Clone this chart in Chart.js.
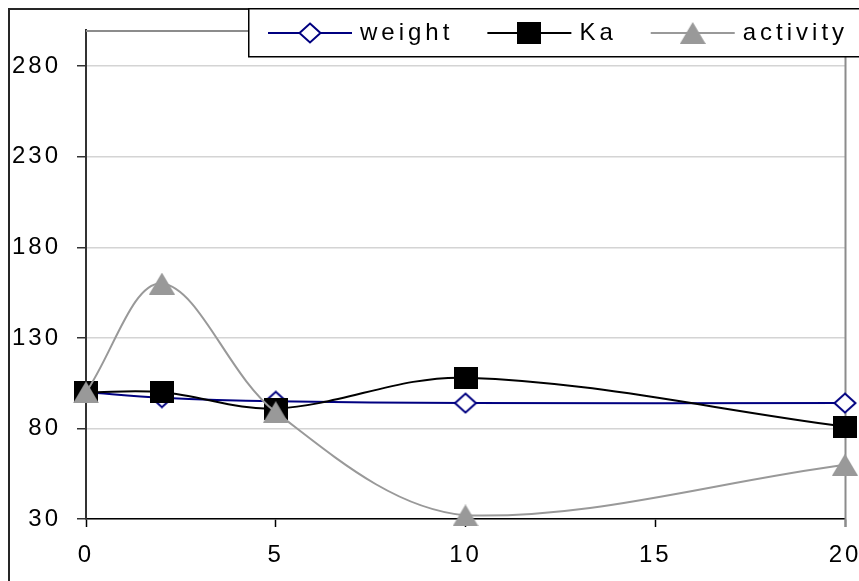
<!DOCTYPE html>
<html>
<head>
<meta charset="utf-8">
<script src="https://cdn.jsdelivr.net/npm/chart.js@4/dist/chart.umd.min.js"></script>
<style>
  html, body { margin: 0; padding: 0; background: #fff; }
  canvas { display: block; }
</style>
</head>
<body>
<canvas id="c" width="859" height="581"></canvas>
<script>
// Measurement days and the three relative series (start = 100)
const days = [0, 2, 5, 10, 20];
const weight = [100, 97, 95, 94, 94];
const ka = [100, 100, 91, 108, 81];
const activity = [100, 160, 89, 32, 60];
const seriesNames = ['weight', 'Ka', 'activity'];
const xTicks = [0, 5, 10, 15, 20];
const yTicks = [30, 80, 130, 180, 230, 280];

const FONT = { family: "'Liberation Sans', Arial, sans-serif", size: 24 };

// Marker bitmaps used as point styles (slightly wider than tall)
function marker(shape, w, h, fill, stroke) {
  const c = document.createElement('canvas');
  c.width = w; c.height = h;
  const g = c.getContext('2d');
  g.fillStyle = fill;
  g.strokeStyle = stroke;
  g.lineWidth = 2;
  g.beginPath();
  if (shape === 'diamond') {
    g.moveTo(w / 2, 1.5); g.lineTo(w - 1.5, h / 2); g.lineTo(w / 2, h - 1.5); g.lineTo(1.5, h / 2);
    g.closePath(); g.fill(); g.stroke();
  } else if (shape === 'square') {
    g.fillRect(0, 0, w, h);
  } else {
    g.moveTo(w / 2, 0); g.lineTo(w, h); g.lineTo(0, h);
    g.closePath(); g.fill();
  }
  return c;
}

const diamondMark = marker('diamond', 24, 22, '#ffffff', '#000080');
const squareMark = marker('square', 24, 22, '#000000', '#000000');
const triangleMark = marker('triangle', 26, 22, '#999999', '#999999');

const toPoints = vals => days.map((d, i) => ({ x: d, y: vals[i] }));

const datasets = [
  { label: seriesNames[0], data: toPoints(weight), borderColor: '#000080', pointStyle: diamondMark, order: 3 },
  { label: seriesNames[1], data: toPoints(ka), borderColor: '#000000', pointStyle: squareMark, order: 2 },
  { label: seriesNames[2], data: toPoints(activity), borderColor: '#999999', pointStyle: triangleMark, order: 1 }
].map(d => Object.assign({ borderWidth: 2, tension: 0.35, clip: false, fill: false }, d));

const SPACING = '3px';
const LEGEND_SPACING = '4px';

const frame = {
  id: 'frame',
  beforeUpdate(chart) { chart.ctx.letterSpacing = SPACING; },
  beforeDraw(chart) {
    const ctx = chart.ctx;
    ctx.letterSpacing = SPACING;
    ctx.save();
    ctx.strokeStyle = '#262626';
    ctx.lineWidth = 2;
    ctx.strokeRect(9, 9, 900, 700);
    ctx.restore();
  },
  beforeDatasetsDraw(chart) {
    const { ctx, chartArea: a } = chart;
    ctx.save();
    ctx.strokeStyle = '#8c8c8c';
    ctx.lineWidth = 2;
    ctx.beginPath();
    ctx.moveTo(a.left, a.top + 1);
    ctx.lineTo(a.right + 0.5, a.top + 1);
    ctx.lineTo(a.right + 0.5, a.bottom + 8);
    ctx.stroke();
    ctx.restore();
  },
  afterDraw(chart) {
    // Legend box overlapping the top-right corner of the plot
    const ctx = chart.ctx;
    const box = { left: 248, top: 8, bottom: 56 };
    const cy = (box.top + box.bottom) / 2 + 1;
    ctx.save();
    ctx.fillStyle = '#ffffff';
    ctx.strokeStyle = '#000000';
    ctx.lineWidth = 1.5;
    ctx.fillRect(box.left, box.top, 700, box.bottom - box.top);
    ctx.strokeRect(box.left + 0.75, box.top + 0.75, 700, box.bottom - box.top);
    ctx.font = `${FONT.size}px ${FONT.family}`;
    ctx.letterSpacing = LEGEND_SPACING;
    ctx.textBaseline = 'middle';
    ctx.textAlign = 'left';
    const lineLen = 84, textGap = 8, itemGap = 34;
    let x = box.left + 20;
    chart.data.datasets.forEach(ds => {
      ctx.strokeStyle = ds.borderColor;
      ctx.lineWidth = 2;
      ctx.beginPath();
      ctx.moveTo(x, cy);
      ctx.lineTo(x + lineLen, cy);
      ctx.stroke();
      const m = ds.pointStyle;
      ctx.drawImage(m, x + lineLen / 2 - m.width / 2, cy - m.height / 2);
      ctx.fillStyle = '#000';
      ctx.fillText(ds.label, x + lineLen + textGap, cy);
      x += lineLen + textGap + ctx.measureText(ds.label).width + itemGap;
    });
    ctx.restore();
  }
};

new Chart(document.getElementById('c'), {
  type: 'line',
  data: { datasets },
  plugins: [frame],
  options: {
    responsive: false,
    animation: false,
    devicePixelRatio: 1,
    layout: { padding: { left: 0, right: 14, top: 30, bottom: 0 } },
    plugins: { legend: { display: false }, tooltip: { enabled: false } },
    elements: { point: { radius: 10, hoverRadius: 10 } },
    scales: {
      x: {
        type: 'linear',
        min: 0,
        max: 20,
        afterBuildTicks: s => { s.ticks = xTicks.map(v => ({ value: v })); },
        afterFit: s => { s.height = 62; s.paddingLeft = 0; s.paddingRight = 0; },
        grid: { drawOnChartArea: false, tickLength: 8, tickColor: '#000', tickWidth: 1.5 },
        border: { color: '#000', width: 1.5 },
        ticks: { font: FONT, color: '#000', padding: 14, maxRotation: 0, autoSkip: false }
      },
      y: {
        min: 30,
        max: 300,
        afterBuildTicks: s => { s.ticks = yTicks.map(v => ({ value: v })); },
        afterFit: s => { s.width = 86; s.paddingTop = 0; s.paddingBottom = 0; },
        grid: { color: '#d4d4d4', lineWidth: 1.5, tickLength: 9, tickColor: '#333', tickWidth: 1.5 },
        border: { color: '#333', width: 2 },
        ticks: { font: FONT, color: '#000', padding: 16, autoSkip: false }
      }
    }
  }
});
</script>
</body>
</html>
